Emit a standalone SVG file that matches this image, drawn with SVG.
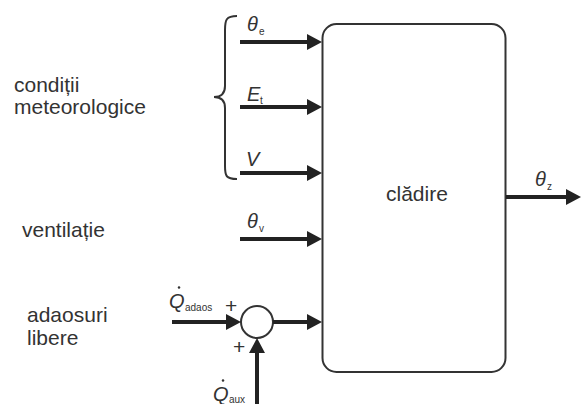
<svg xmlns="http://www.w3.org/2000/svg" width="581" height="404" viewBox="0 0 581 404">
<style>
.lbl{font-family:"Liberation Sans",Arial,sans-serif;font-size:21px;fill:#333}
.sym{font-family:"Liberation Sans",Arial,sans-serif;font-size:20px;font-style:italic;fill:#333}
.sub{font-family:"Liberation Sans",Arial,sans-serif;font-size:10px;fill:#333}
.plus{font-family:"Liberation Sans",Arial,sans-serif;font-size:21px;fill:#333}
.arr{stroke:#222;stroke-width:4;fill:none;marker-end:url(#ah)}
.thin{stroke:#333;stroke-width:2;fill:none}
</style>
<defs>
<marker id="ah" markerUnits="userSpaceOnUse" markerWidth="15" markerHeight="16" refX="3" refY="8" orient="auto" viewBox="0 0 15 16">
<path d="M0,0 L15,8 L0,16 z" fill="#222"/>
</marker>
</defs>
<rect width="581" height="404" fill="#fff"/>
<g id="labels-left">
<text class="lbl" x="14" y="92">condiții</text>
<text class="lbl" x="14" y="114">meteorologice</text>
<text class="lbl" x="22" y="237">ventilație</text>
<text class="lbl" x="27" y="322">adaosuri</text>
<text class="lbl" x="27" y="345">libere</text>
</g>
<g id="brace">
<path class="thin" d="M237,16 C226,16 225,20 225,30 L225,86 C225,93 221,97 214,97 C221,97 225,101 225,108 L225,166 C225,176 226,179 237,179"/>
</g>
<g id="cladire">
<rect class="thin" x="322.5" y="24" width="183" height="348" rx="14" ry="14"/>
<text class="lbl" x="386" y="201">clădire</text>
</g>
<g id="sum">
<circle class="thin" cx="257" cy="322" r="16"/>
<text class="plus" x="225" y="313">+</text>
<text class="plus" x="233" y="354">+</text>
</g>
<g id="connectors">
<path class="arr" d="M240,42 L310,42"/>
<path class="arr" d="M240,107 L310,107"/>
<path class="arr" d="M240,173 L310,173"/>
<path class="arr" d="M240,239 L310,239"/>
<path class="arr" d="M172,322 L229,322"/>
<path class="arr" d="M273,322 L310,322"/>
<path class="arr" d="M257,404 L257,350"/>
<path class="arr" d="M506,197 L569,197"/>
</g>
<g id="symbols">
<text class="sym" x="247" y="31">θ</text><text class="sub" x="259" y="35">e</text>
<text class="sym" x="247" y="101">E</text><text class="sub" x="260" y="104">t</text>
<text class="sym" x="246" y="166">V</text>
<text class="sym" x="247" y="228">θ</text><text class="sub" x="259" y="232">v</text>
<text class="sym" x="535" y="186">θ</text><text class="sub" x="547" y="190">z</text>
<text class="sym" x="169" y="308">Q</text><text class="sub" x="185" y="311">adaos</text>
<path d="M179,287.5 h0" stroke="#333" stroke-width="2.5" stroke-linecap="round"/>
<text class="sym" x="213" y="401">Q</text><text class="sub" x="229" y="403">aux</text>
<path d="M223,380.5 h0" stroke="#333" stroke-width="2.5" stroke-linecap="round"/>
</g>
</svg>
